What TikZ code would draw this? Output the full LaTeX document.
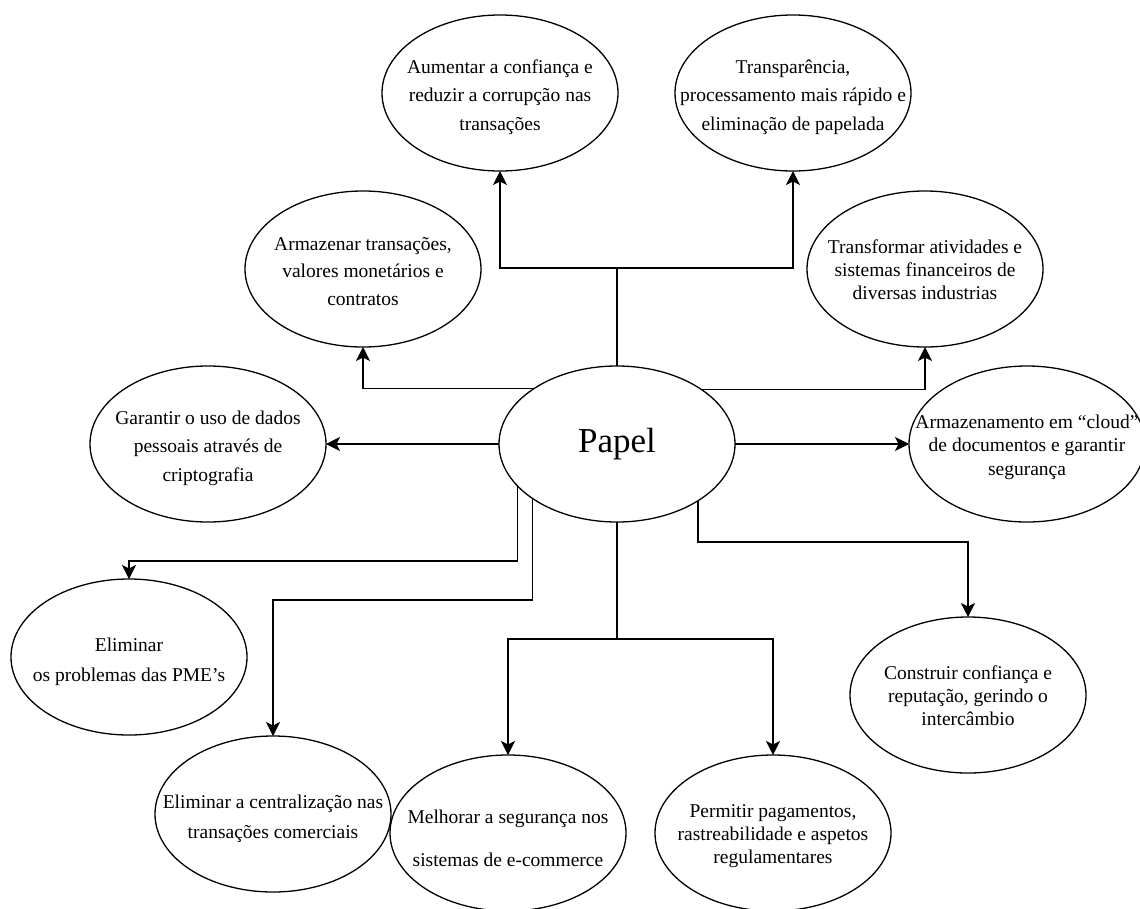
\documentclass[tikz,border=0pt]{standalone}
\usepackage{fontspec}
\setmainfont{Liberation Serif}
\usetikzlibrary{arrows.meta,shapes.geometric}
\newcommand\ctext[2]{\vbox to 0pt{\vss\vskip 6pt\hbox to 0pt{\hss\fontsize{19.5}{#1}\selectfont\begin{tabular}{@{}c@{}}#2\end{tabular}\hss}\vss}}
\tikzset{
  bubble/.style={ellipse, draw=black, line width=1.3pt, fill=white,
    minimum width=236pt, minimum height=156pt, inner sep=0pt, outer sep=0pt},
  conn/.style={draw=black, line width=1.3pt},
  arr/.style={conn, -{Stealth[length=14pt,width=14pt,inset=3.5pt]}},
}
\begin{document}
\begin{tikzpicture}[x=1pt,y=-1pt]
\fill[white] (0,0) rectangle (1140,908);
\useasboundingbox (0,0) rectangle (1140,908);

\node[bubble] (papel) at (617,444) {\fontsize{35}{40}\selectfont\raisebox{-3pt}{Papel}};
\node[bubble] (aum) at (500,93) {\ctext{28.5}{Aumentar a confiança e\\reduzir a corrupção nas\\transações}};
\node[bubble] (transp) at (793,93) {\ctext{28.5}{Transparência,\\processamento mais rápido e\\eliminação de papelada}};
\node[bubble] (armz) at (363,269) {\ctext{27.5}{Armazenar transações,\\valores monetários e\\contratos}};
\node[bubble] (transf) at (925,269) {\ctext{23}{Transformar atividades e\\sistemas financeiros de\\diversas industrias}};
\node[bubble] (gar) at (208,444) {\ctext{28.5}{Garantir o uso de dados\\pessoais através de\\criptografia}};
\node[bubble] (cloud) at (1027,444) {\ctext{23.5}{Armazenamento em “cloud”\\de documentos e garantir\\segurança}};
\node[bubble] (pme) at (129,657) {\ctext{30}{Eliminar\\os problemas das PME's}};
\node[bubble] (central) at (273,814) {\ctext{30}{Eliminar a centralização nas\\transações comerciais}};
\node[bubble] (melh) at (508,833) {\ctext{43}{Melhorar a segurança nos\\sistemas de e-commerce}};
\node[bubble] (perm) at (773,833) {\ctext{23}{Permitir pagamentos,\\rastreabilidade e aspetos\\regulamentares}};
\node[bubble] (constr) at (968,695) {\ctext{23}{Construir confiança e\\reputação, gerindo o\\intercâmbio}};

\coordinate (jtop) at (617,268);
\coordinate (jbot) at (617,639);
\coordinate (lvA) at (0,561);
\coordinate (lvB) at (0,600);
\coordinate (lvC) at (0,542);

\draw[arr] (papel.north) -- (jtop) -| (aum.south);
\draw[arr] (papel.north) -- (jtop) -| (transp.south);
\draw[arr] (papel.146.7) -| (armz.south);
\draw[arr] (papel.33.3) -| (transf.south);
\draw[arr] (papel.west) -- (gar.east);
\draw[arr] (papel.east) -- (cloud.west);
\draw[arr] (papel.203.9) |- (pme.north |- lvA) -- (pme.north);
\draw[arr] (papel.213.7) |- (central.north |- lvB) -- (central.north);
\draw[arr] (papel.south) -- (jbot) -| (melh.north);
\draw[arr] (papel.south) -- (jbot) -| (perm.north);
\draw[arr] (papel.325.6) |- (constr.north |- lvC) -- (constr.north);
\end{tikzpicture}
\end{document}
